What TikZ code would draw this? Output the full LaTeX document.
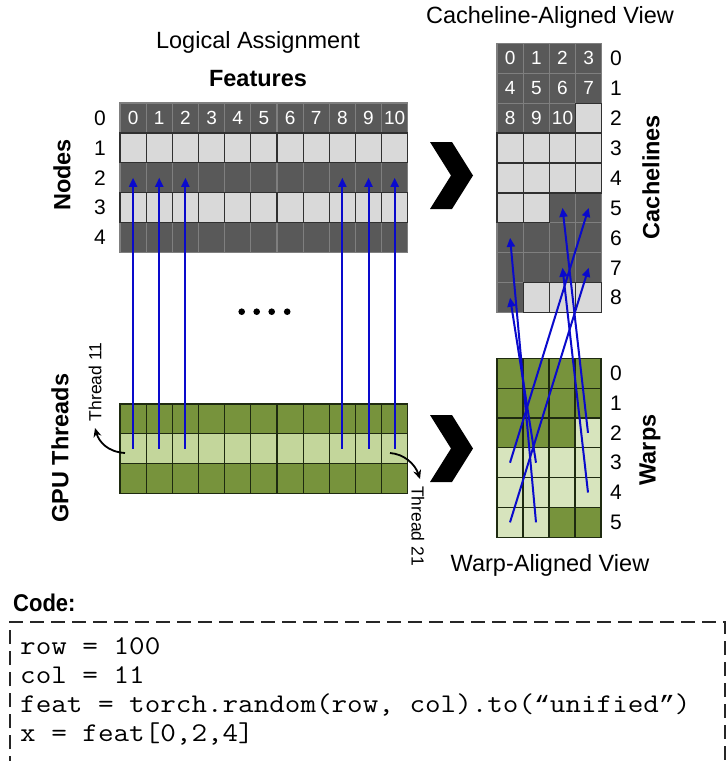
\documentclass[tikz,border=0pt]{standalone}
\usepackage{fontspec}
\setmainfont{Liberation Sans}
\newfontfamily\quotefont{Liberation Mono}
\usetikzlibrary{arrows.meta}
\definecolor{dgrey}{HTML}{595959}
\definecolor{lgrey}{HTML}{D9D9D9}
\definecolor{greyedge}{HTML}{7F7F7F}
\definecolor{darkedge}{HTML}{303030}
\definecolor{dgreen}{HTML}{77933C}
\definecolor{lgreenA}{HTML}{C3D69B}
\definecolor{lgreenB}{HTML}{D7E4BD}
\definecolor{greenedge}{HTML}{1E2A10}
\definecolor{arrowblue}{HTML}{0A0ACC}
\newcommand{\codetext}[1]{\scalebox{1.12}[1]{#1}}
\newcommand{\cq}[1]{{\quotefont\fontsize{23.6}{24}\selectfont #1}}
\begin{document}
\begin{tikzpicture}[x=1pt,y=-1pt,
  sz/.style 2 args={minimum width=#1, minimum height=#2},
  cellbase/.style={rectangle, inner sep=0pt, outer sep=0pt, line width=1.2pt},
  dgcell/.style={cellbase, fill=dgrey, draw=greyedge, text=white,
                 font=\fontsize{19}{19}\selectfont},
  lgcell/.style={cellbase, fill=lgrey, draw=darkedge, text=white,
                 font=\fontsize{19}{19}\selectfont},
  dgrcell/.style={cellbase, fill=dgreen, draw=greenedge},
  lgrcellA/.style={cellbase, fill=lgreenA, draw=greenedge},
  lgrcellB/.style={cellbase, fill=lgreenB, draw=greenedge},
  rowlab/.style={font=\fontsize{21}{21}\selectfont, inner sep=0pt},
  title/.style={font=\fontsize{23.5}{24}\selectfont, inner sep=0pt},
  axislab/.style={font=\fontsize{23.5}{24}\selectfont\bfseries, inner sep=0pt, rotate=90},
  threadlab/.style={font=\fontsize{17.5}{18}\selectfont, inner sep=0pt},
  bluearrow/.style={draw=arrowblue, line width=2pt, -{Triangle[length=9pt,width=8pt]}},
  bendarrow/.style={draw=black, line width=1.8pt, -{Stealth[length=9pt,width=8pt]}},
  chevron/.style={fill=black},
  codeline/.style={anchor=base west, inner sep=0pt, font=\ttfamily\fontsize{27}{28}\selectfont},
]
\useasboundingbox (0,0) rectangle (727,761);
\fill[white] (0,0) rectangle (727,761);

% ---------- Logical assignment: 5 x 11 feature table ----------
\node[title] (logtitle) at (258,42) {Logical Assignment};
\node[title, font=\fontsize{23.5}{24}\selectfont\bfseries] (feattitle) at (258,79) {Features};
\foreach \r in {0,2,4}
  \foreach \c in {0,...,10}
    \node[dgcell, sz={26.16pt}{29.9pt}] (L-\r-\c) at ({120+26.16*(\c+0.5)},{103+29.9*(\r+0.5)})
      {\ifnum\r=0 \c\fi};
\foreach \r in {1,3}
  \foreach \c in {0,...,10}
    \node[lgcell, sz={26.16pt}{29.9pt}] (L-\r-\c) at ({120+26.16*(\c+0.5)},{103+29.9*(\r+0.5)}) {};
\foreach \r in {0,...,4}
  \node[rowlab] (Lr-\r) at (100,{103+29.9*(\r+0.5)}) {\r};
\node[axislab] (nodeslab) at (62,175) {Nodes};

% ---------- GPU threads: 3 x 11 ----------
\foreach \r in {0,2}
  \foreach \c in {0,...,10}
    \node[dgrcell, sz={26.16pt}{29.7pt}] (G-\r-\c) at ({120+26.16*(\c+0.5)},{404+29.7*(\r+0.5)}) {};
\foreach \c in {0,...,10}
  \node[lgrcellA, sz={26.16pt}{29.7pt}] (G-1-\c) at ({120+26.16*(\c+0.5)},{404+29.7*1.5}) {};
\node[axislab] (gpulab) at (60,448) {GPU Threads};

% threads reading node 2
\foreach \c in {0,1,2,8,9,10}
  \draw[bluearrow] (G-1-\c.center) -- (L-2-\c.center);

% elided rows
\foreach \x in {241.7,256.7,271.7,287.2}
  \fill (\x,311.7) circle (3.3pt);

% thread markers
\coordinate (t11a) at (125,453);
\coordinate (t11b) at (95,428);
\draw[bendarrow] (t11a) .. controls (108,452) and (99,442) .. (t11b);
\node[threadlab, rotate=90] (t11lab) at (95,382) {Thread 11};
\coordinate (t21a) at (390,453);
\coordinate (t21b) at (420,479);
\draw[bendarrow] (t21a) .. controls (404,454) and (415,464) .. (t21b);
\node[threadlab, rotate=-90] (t21lab) at (418,526) {Thread 21};

% ---------- arrows between views ----------
\fill[chevron] (430,142) -- (452,142) -- (473,175.5) -- (452,209) -- (430,209) -- (451,175.5) -- cycle;
\fill[chevron] (430,415) -- (452,415) -- (473,448.5) -- (452,482) -- (430,482) -- (451,448.5) -- cycle;

% ---------- Cacheline-aligned view: 9 x 4 ----------
\node[title] (cltitle) at (550,17) {Cacheline-Aligned View};
\foreach \r/\cs in {0/{0,1,2,3},1/{0,1,2,3},2/{0,1,2},5/{2,3},6/{0,1,2,3},7/{0,1,2,3},8/{0}}
  \foreach \c in \cs {
    \pgfmathtruncatemacro\idx{4*\r+\c}
    \node[dgcell, sz={26.2pt}{29.93pt}] (C-\r-\c) at ({497+26.2*(\c+0.5)},{43.3+29.93*(\r+0.5)})
      {\ifnum\r<3 \idx\fi};
  }
\foreach \r/\cs in {2/{3},3/{0,1,2,3},4/{0,1,2,3},5/{0,1},8/{1,2,3}}
  \foreach \c in \cs
    \node[lgcell, sz={26.2pt}{29.93pt}] (C-\r-\c) at ({497+26.2*(\c+0.5)},{43.3+29.93*(\r+0.5)}) {};
\foreach \r in {0,...,8}
  \node[rowlab] (Cr-\r) at (616,{43.3+29.93*(\r+0.5)}) {\r};
\node[axislab] (cllab) at (651,177) {Cachelines};

% ---------- Warp-aligned view: 6 x 4 ----------
\foreach \r/\cs in {0/{0,1,2,3},1/{0,1,2,3},2/{0,1,2},5/{2,3}}
  \foreach \c in \cs
    \node[dgrcell, sz={26pt}{29.83pt}] (W-\r-\c) at ({497+26*(\c+0.5)},{358.3+29.83*(\r+0.5)}) {};
\foreach \r/\cs in {2/{3},3/{0,1,2,3},4/{0,1,2,3},5/{0,1}}
  \foreach \c in \cs
    \node[lgrcellB, sz={26pt}{29.83pt}] (W-\r-\c) at ({497+26*(\c+0.5)},{358.3+29.83*(\r+0.5)}) {};
\foreach \r in {0,...,5}
  \node[rowlab] (Wr-\r) at (616,{358.3+29.83*(\r+0.5)}) {\r};
\node[axislab] (warplab) at (650,450) {Warps};
\node[title] (wtitle) at (550,565) {Warp-Aligned View};

% warp lanes fetching cacheline words
\draw[bluearrow] (W-3-0.center) -- (C-5-3.center);
\draw[bluearrow] (W-5-0.center) -- (C-7-3.center);
\draw[bluearrow] (W-5-1.center) -- (C-6-0.center);
\draw[bluearrow] (W-3-1.center) -- (C-8-0.center);
\draw[bluearrow] (W-2-3.center) -- (C-5-2.center);
\draw[bluearrow] (W-4-3.center) -- (C-7-2.center);

% ---------- code listing ----------
\node[anchor=base west, inner sep=0pt, font=\fontsize{22}{22}\selectfont\bfseries] (codelab) at (13,611)
  {\scalebox{1}[1.1]{Code:}};
\draw[black!85, line width=1.5pt, dash pattern=on 14pt off 7pt] (10,770) -- (10,622) -- (725,622) -- (725,770);
\node[codeline] (c1) at (20,654) {\codetext{row = 100}};
\node[codeline] (c2) at (20,683) {\codetext{col = 11}};
\node[codeline] (c3) at (20,712) {\codetext{feat = torch.random(row, col).to(\cq{“}unified\cq{”})}};
\node[codeline] (c4) at (20,741) {\codetext{x = feat[0,2,4]}};
\end{tikzpicture}
\end{document}
